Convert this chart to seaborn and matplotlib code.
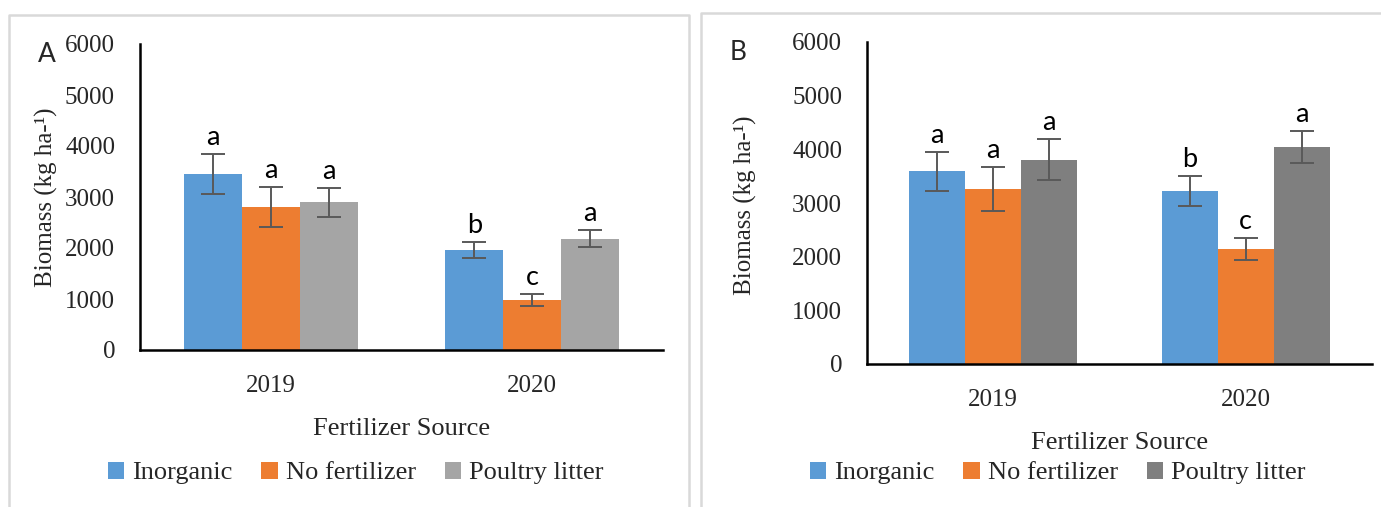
import numpy as np
import pandas as pd
import matplotlib
matplotlib.use("Agg")
import matplotlib.pyplot as plt
from matplotlib.patches import Patch
from matplotlib.lines import Line2D
import seaborn as sns

# ---------------- data ----------------
years = ["2019", "2020"]
sources = ["Inorganic", "No fertilizer", "Poultry litter"]

# Panel A
a_inorganic = [3450, 1960]
a_nofert = [2810, 980]
a_poultry = [2895, 2180]
a_err_inorganic = [400, 165]
a_err_nofert = [390, 110]
a_err_poultry = [290, 170]
a_let_inorganic = ["a", "b"]
a_let_nofert = ["a", "c"]
a_let_poultry = ["a", "a"]

# Panel B
b_inorganic = [3590, 3220]
b_nofert = [3260, 2140]
b_poultry = [3810, 4045]
b_err_inorganic = [360, 275]
b_err_nofert = [415, 200]
b_err_poultry = [385, 300]
b_let_inorganic = ["a", "b"]
b_let_nofert = ["a", "c"]
b_let_poultry = ["a", "a"]

yticks = [0, 1000, 2000, 3000, 4000, 5000, 6000]

blue = "#5B9BD5"
orange = "#ED7D31"
gray_a = "#A5A5A5"
gray_b = "#7F7F7F"
err_color = "#595959"

sns.set_style("white")
plt.rcParams["font.family"] = ["Liberation Serif", "DejaVu Serif"]

SERIF = "Liberation Serif"
SANS = "Lato"

fig = plt.figure(figsize=(13.81, 5.07), dpi=100)

W, H = 1381.0, 507.0


def frac_x(px):
    return px / W


def frac_y(py):
    return 1 - py / H


def panel(rect, vals, errs, lets, palette, ylabel_x, ylabel_y):
    ax = fig.add_axes(rect)
    rows = []
    for s, v in zip(sources, vals):
        for yr, val in zip(years, v):
            rows.append({"year": yr, "source": s, "value": val})
    df = pd.DataFrame(rows)
    sns.barplot(data=df, x="year", y="value", hue="source", order=years,
                hue_order=sources, palette=palette, width=0.665, gap=0,
                saturation=1, errorbar=None, linewidth=0, legend=False, ax=ax)
    for cont, v, e, l in zip(ax.containers, vals, errs, lets):
        for patch, val, err, let in zip(cont.patches, v, e, l):
            xc = patch.get_x() + patch.get_width() / 2
            ax.errorbar(xc, val, yerr=err, fmt="none", ecolor=err_color,
                        elinewidth=1.4, capsize=8.5, capthick=1.4, zorder=5)
            ax.annotate(let, xy=(xc, val + err), xytext=(0, 6.5),
                        textcoords="offset points", ha="center", va="baseline",
                        fontsize=19.5, family=SANS, color="black")
    ax.set_ylim(0, 6000)
    ax.set_xlim(-0.5, 1.5)
    ax.set_yticks(yticks)
    ax.set_yticklabels([str(t) for t in yticks], fontsize=18, family=SERIF)
    ax.set_xticks([0, 1])
    ax.set_xticklabels(years, fontsize=18, family=SERIF)
    ax.tick_params(axis="y", length=0, pad=18)
    ax.tick_params(axis="x", length=0, pad=18)
    ax.set_xlabel("Fertilizer Source", fontsize=19, family=SERIF, labelpad=15)
    ax.set_ylabel("Biomass (kg ha-¹)", fontsize=18, family=SERIF)
    ax.yaxis.set_label_coords(ylabel_x, ylabel_y)
    for sp in ["top", "right"]:
        ax.spines[sp].set_visible(False)
    for sp in ["left", "bottom"]:
        ax.spines[sp].set_color("black")
        ax.spines[sp].set_linewidth(1.8)
    ax.set_facecolor("none")
    return ax


# Panel A axes: x 140..663, y 44..350
axA = panel([frac_x(140), frac_y(350), (663 - 140) / W, (350 - 44) / H],
            [a_inorganic, a_nofert, a_poultry],
            [a_err_inorganic, a_err_nofert, a_err_poultry],
            [a_let_inorganic, a_let_nofert, a_let_poultry],
            [blue, orange, gray_a], -0.157, 0.5)

# Panel B axes: x 867..1372, y 42..364
axB = panel([frac_x(867), frac_y(364), (1372 - 867) / W, (364 - 42) / H],
            [b_inorganic, b_nofert, b_poultry],
            [b_err_inorganic, b_err_nofert, b_err_poultry],
            [b_let_inorganic, b_let_nofert, b_let_poultry],
            [blue, orange, gray_b], -0.218, 0.494)

# panel frames
frame_col = "#D9D9D9"
for xs, ys in [([9, 9, 689, 689], [510, 15, 15, 510]),
               ([701, 701, 1385], [510, 13, 13])]:
    fig.add_artist(Line2D([frac_x(x) for x in xs], [frac_y(y) for y in ys],
                          transform=fig.transFigure, color=frame_col, lw=1.8))

# panel letters
fig.text(frac_x(47), frac_y(54), "A", ha="center", va="center",
         fontsize=19, family=SANS)
fig.text(frac_x(738), frac_y(52), "B", ha="center", va="center",
         fontsize=19, family=SANS)

# legends
for pal, cx in [([blue, orange, gray_a], 355.5), ([blue, orange, gray_b], 1057.5)]:
    handles = [Patch(facecolor=c, edgecolor="none") for c in pal]
    fig.legend(handles, sources, loc="center",
               bbox_to_anchor=(frac_x(cx), frac_y(473)), ncol=3, frameon=False,
               handlelength=0.62, handleheight=0.62, handletextpad=0.3,
               columnspacing=1.1, prop={"family": SERIF, "size": 19},
               borderaxespad=0, borderpad=0)

fig.savefig("out.png", dpi=100, facecolor="white")
